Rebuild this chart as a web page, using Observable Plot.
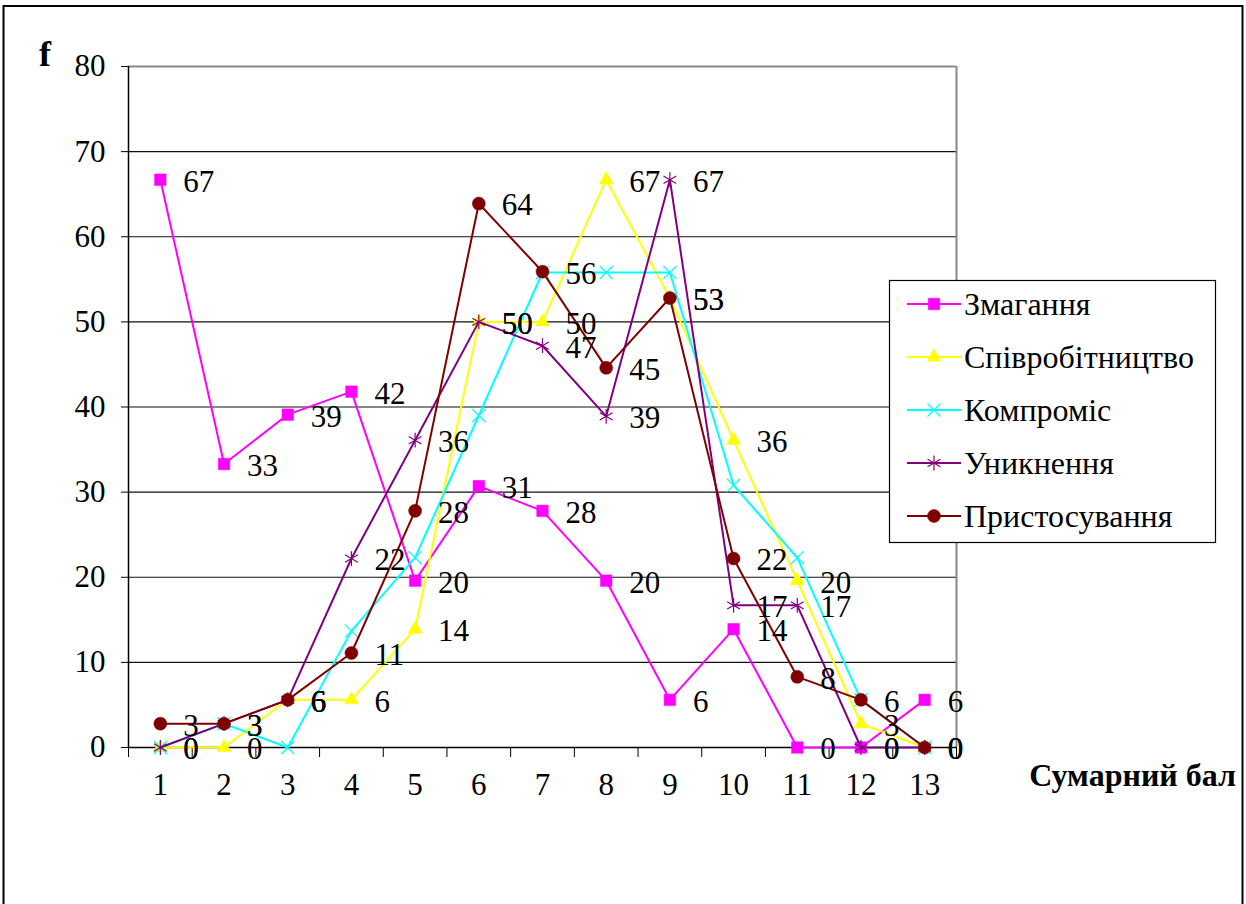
<!DOCTYPE html>
<html>
<head>
<meta charset="utf-8">
<script src="https://cdn.jsdelivr.net/npm/d3@7"></script>
<script src="https://cdn.jsdelivr.net/npm/@observablehq/plot@0.6"></script>
<style>
  html, body { margin: 0; padding: 0; background: #fff; }
  #wrap { position: relative; width: 1246px; height: 904px; overflow: hidden; }
  #wrap svg { position: absolute; left: 0; top: 0; }
</style>
</head>
<body>
<div id="wrap"></div>
<script>
// ---- data ----
const categories = [1, 2, 3, 4, 5, 6, 7, 8, 9, 10, 11, 12, 13];
const seriesNames = ["Змагання", "Співробітництво", "Компроміс", "Уникнення", "Пристосування"];
const zmahannia      = [66.7, 33.3, 39.1, 41.8, 19.6, 30.7, 27.8, 19.6, 5.6, 13.9, 0, 0, 5.6];
const spivrobitnytstvo = [0, 0, 5.6, 5.6, 13.9, 50.0, 50.0, 66.7, 52.8, 36.1, 19.6, 2.8, 0];
const kompromis      = [0, 2.8, 0, 13.7, 22.3, 39.0, 55.8, 55.8, 55.8, 30.8, 22.3, 5.6, 0];
const unyknennia     = [0, 2.8, 5.6, 22.2, 36.1, 50.0, 47.2, 38.9, 66.7, 16.7, 16.7, 0, 0];
const prystosuvannia = [2.8, 2.8, 5.6, 11.1, 27.8, 63.9, 55.9, 44.6, 52.8, 22.2, 8.3, 5.6, 0];
const yTicks = [0, 10, 20, 30, 40, 50, 60, 70, 80];
const xTitle = "Сумарний бал";
const yTitle = "f";

// ---- styling per series ----
const seriesValues = [zmahannia, spivrobitnytstvo, kompromis, unyknennia, prystosuvannia];
const colors = ["#FF00FF", "#FFFF00", "#00FFFF", "#800080", "#800000"];
const symbols = ["square", "triangle", "times", "asterisk", "circle"];
const symbolR = [6.5, 5.2, 6, 7, 6.5];
const filled = [true, true, false, false, true];
const labelled = [true, true, false, true, true];

const rows = seriesNames.map((name, si) =>
  categories.map((c, i) => ({ series: name, x: c, y: seriesValues[si][i] }))
);
const boundaries = d3.range(0.5, 13.6, 1);
const FS = 31;

const marks = [
  Plot.ruleY(yTicks.filter(t => t > 0 && t < 80), { stroke: "#111", strokeWidth: 1.2 }),
  Plot.ruleY([80], { stroke: "#888", strokeWidth: 2 }),
  Plot.ruleX([13.5], { y1: 0, y2: 80, stroke: "#888", strokeWidth: 2 }),
  Plot.axisY({ ticks: yTicks, tickSize: 7, tickPadding: 16, label: null, fontSize: FS, stroke: "#000" }),
  Plot.axisX({ ticks: boundaries, tickSize: 10, tickFormat: () => "", label: null, stroke: "#000" }),
  Plot.axisX({ ticks: categories, tickSize: 0, tickPadding: 25, label: null, fontSize: FS }),
  Plot.ruleX([0.5], { y1: 0, y2: 80, stroke: "#000", strokeWidth: 1.5 }),
  Plot.ruleY([0], { stroke: "#000", strokeWidth: 1.5 })
];
rows.forEach((r, si) => {
  marks.push(Plot.line(r, { x: "x", y: "y", stroke: colors[si], strokeWidth: 2 }));
  marks.push(Plot.dot(r, {
    x: "x", y: "y", symbol: symbols[si], r: symbolR[si],
    fill: filled[si] ? colors[si] : "none",
    stroke: colors[si], strokeWidth: filled[si] ? 0.5 : 1.2
  }));
});
rows.forEach((r, si) => {
  if (!labelled[si]) return;
  marks.push(Plot.text(r, {
    x: "x", y: "y", text: d => String(Math.round(d.y)),
    textAnchor: "start", dx: 23, dy: 2, fontSize: FS, fill: "#000"
  }));
});

const chart = Plot.plot({
  width: 1246, height: 904,
  marginLeft: 128, marginRight: 290, marginTop: 66, marginBottom: 157,
  x: { domain: [0.5, 13.5] },
  y: { domain: [0, 80] },
  style: { fontFamily: "'Liberation Serif', 'Times New Roman', serif", fontSize: FS + "px", color: "#000", background: "transparent" },
  marks
});
document.getElementById("wrap").appendChild(chart);

// ---- overlay: frame, titles, legend ----
const ov = d3.select("#wrap").append("svg")
  .attr("width", 1246).attr("height", 904)
  .style("pointer-events", "none")
  .style("font-family", "'Liberation Serif', 'Times New Roman', serif");

ov.append("rect").attr("x", 3.5).attr("y", 6).attr("width", 1239).attr("height", 960)
  .attr("fill", "none").attr("stroke", "#000").attr("stroke-width", 2);

ov.append("text").attr("x", 39).attr("y", 66).attr("font-size", 36).attr("font-weight", "bold").text(yTitle);
ov.append("text").attr("x", 1236).attr("y", 786).attr("text-anchor", "end")
  .attr("font-size", 32).attr("font-weight", "bold").text(xTitle);

const lg = ov.append("g").attr("transform", "translate(889,280)");
lg.append("rect").attr("x", 0.5).attr("y", 0.5).attr("width", 326).attr("height", 262)
  .attr("fill", "#fff").attr("stroke", "#000").attr("stroke-width", 1.2);
const d3sym = { square: d3.symbolSquare, triangle: d3.symbolTriangle, times: d3.symbolTimes, asterisk: d3.symbolAsterisk, circle: d3.symbolCircle };
seriesNames.forEach((name, si) => {
  const cy = 24 + si * 53;
  const g = lg.append("g").attr("transform", `translate(0,${cy})`);
  g.append("line").attr("x1", 18).attr("x2", 72).attr("y1", 0).attr("y2", 0)
    .attr("stroke", colors[si]).attr("stroke-width", 2);
  g.append("path").attr("transform", "translate(45,0)")
    .attr("d", d3.symbol(d3sym[symbols[si]], Math.PI * symbolR[si] * symbolR[si])())
    .attr("fill", filled[si] ? colors[si] : "none")
    .attr("stroke", colors[si]).attr("stroke-width", filled[si] ? 0.5 : 1.2);
  g.append("text").attr("x", 75).attr("y", 0).attr("dy", "0.35em")
    .attr("font-size", 32).text(name);
});
</script>
</body>
</html>
